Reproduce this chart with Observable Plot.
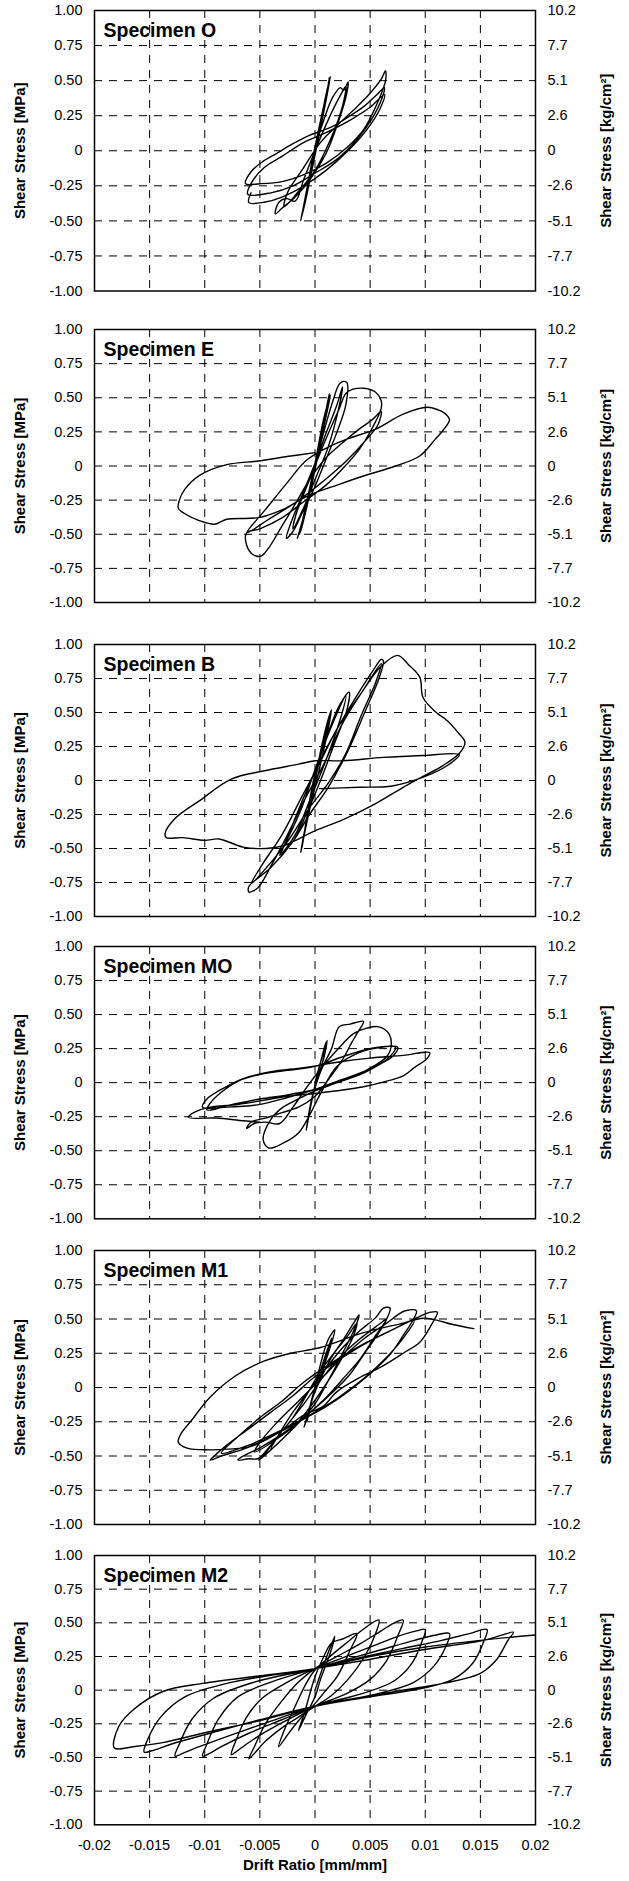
<!DOCTYPE html>
<html><head><meta charset="utf-8">
<script src="https://cdn.jsdelivr.net/npm/d3@7"></script>
<script src="https://cdn.jsdelivr.net/npm/@observablehq/plot@0.6"></script>
<style>
body{margin:0;background:#fff;}
#chart{position:relative;width:629px;height:1881px;overflow:hidden;}
.panel{position:absolute;left:0;}
</style></head><body><div id="chart"></div>
<script>
// ---- tick values and labels ----
const xTicks = [-0.02,-0.015,-0.01,-0.005,0,0.005,0.01,0.015,0.02];
const xTickLabels = ["-0.02","-0.015","-0.01","-0.005","0","0.005","0.01","0.015","0.02"];
const xGrid = [-0.015,-0.01,-0.005,0,0.005,0.01,0.015];
const yTicks = [1,0.75,0.5,0.25,0,-0.25,-0.5,-0.75,-1];
const mpaLabels = ["1.00","0.75","0.50","0.25","0","-0.25","-0.50","-0.75","-1.00"];
const kgLabels = ["10.2","7.7","5.1","2.6","0","-2.6","-5.1","-7.7","-10.2"];
const yGrid = [0.75,0.5,0.25,0,-0.25,-0.5,-0.75];
const specimenNames = ["Specimen O","Specimen E","Specimen B","Specimen MO","Specimen M1","Specimen M2"];
const leftTitle = "Shear Stress [MPa]";
const rightTitle = "Shear Stress [kg/cm\u00b2]";
const xTitle = "Drift Ratio [mm/mm]";

// ---- hysteresis traces: [drift ratio, shear stress MPa] ----
const specimenO = [
[0,0],[0.0005,0.2],[0.0010,0.40],[0.0014,0.53],[0.0011,0.40],[0.0004,0.12],[-0.0004,-0.18],[-0.0010,-0.40],[-0.0013,-0.50],[-0.0010,-0.38],[-0.0002,-0.05],[0.0006,0.25],[0.0012,0.47],[0.0013,0.52],[0.0009,0.32],[0.0,-0.02],[-0.0007,-0.30],[-0.0012,-0.47],[-0.0008,-0.30],[0.0,0.02],
[0.0008,0.22],[0.0016,0.38],[0.0023,0.45],[0.0026,0.43],[0.0030,0.49],[0.0028,0.38],[0.0020,0.18],[0.0010,-0.02],[-0.0004,-0.20],[-0.0018,-0.33],[-0.0030,-0.41],[-0.0036,-0.45],[-0.0033,-0.37],[-0.0026,-0.34],[-0.0018,-0.36],[-0.0010,-0.20],[0.0,0.0],[0.0012,0.22],[0.0022,0.38],[0.0028,0.46],[0.0025,0.32],[0.0014,0.08],[0.0,-0.14],[-0.0016,-0.30],[-0.0028,-0.40],[-0.0025,-0.30],[-0.0012,-0.14],
[0.0005,0.06],[0.0020,0.18],[0.0035,0.29],[0.0050,0.41],[0.0060,0.51],[0.0064,0.57],[0.0064,0.50],[0.0056,0.33],[0.0044,0.15],[0.0030,0.03],[0.0010,-0.09],[-0.0010,-0.17],[-0.0030,-0.22],[-0.0050,-0.235],[-0.0063,-0.235],[-0.0058,-0.15],[-0.0048,-0.08],[-0.0035,-0.02],[-0.0020,0.05],[-0.0005,0.11],[0.0015,0.17],[0.0030,0.24],[0.0045,0.32],[0.0056,0.40],[0.0063,0.45],[0.0061,0.38],[0.0051,0.22],[0.0038,0.08],[0.0020,-0.06],[0.0,-0.16],[-0.0020,-0.25],[-0.0040,-0.30],[-0.0061,-0.31],[-0.0057,-0.22],[-0.0046,-0.12],[-0.0030,-0.04],[-0.0010,0.06],[0.0010,0.13],[0.0030,0.21],[0.0050,0.31],[0.0063,0.40],[0.0059,0.30],[0.0046,0.14],[0.0030,0.0],[0.0010,-0.14],[-0.0010,-0.25],[-0.0030,-0.33],[-0.0045,-0.365],[-0.0060,-0.37],[-0.0058,-0.30]
];
const specimenE = [
[0,0],[0.0006,0.25],[0.0011,0.45],[0.0013,0.53],[0.0010,0.38],[0.0002,0.05],[-0.0006,-0.25],[-0.0012,-0.45],[-0.0014,-0.50],[-0.0010,-0.35],[0.0,0.02],[0.0008,0.35],[0.0014,0.52],[0.0011,0.40],[0.0,0.0],[-0.0008,-0.30],[-0.0016,-0.53],[-0.0012,-0.42],[-0.0003,-0.10],
[0.0008,0.25],[0.0016,0.47],[0.0022,0.60],[0.0026,0.62],[0.0029,0.61],[0.0028,0.45],[0.0020,0.25],[0.0010,0.05],[0.0,-0.15],[-0.0012,-0.35],[-0.0020,-0.48],[-0.0026,-0.53],[-0.0022,-0.42],[-0.0012,-0.22],[0.0,0.02],[0.0010,0.24],[0.0020,0.45],[0.0025,0.58],[0.0022,0.44],[0.0012,0.14],[0.0,-0.10],[-0.0010,-0.30],[-0.0020,-0.46],[-0.0017,-0.35],
[-0.0005,-0.10],[0.0010,0.20],[0.0022,0.42],[0.0029,0.54],[0.0044,0.57],[0.0055,0.54],[0.0060,0.48],[0.0060,0.42],[0.0052,0.28],[0.0040,0.12],[0.0025,-0.02],[0.0010,-0.14],[-0.0010,-0.26],[-0.0030,-0.38],[-0.0050,-0.46],[-0.0062,-0.49],[-0.0062,-0.58],[-0.0056,-0.65],[-0.0049,-0.66],[-0.0042,-0.60],[-0.0030,-0.44],[-0.0018,-0.28],[-0.0005,-0.10],[0.0010,0.06],[0.0025,0.17],[0.0040,0.27],[0.0052,0.34],[0.0060,0.40],[0.0057,0.30],[0.0045,0.18],[0.0030,0.05],[0.0015,-0.06],[0.0,-0.16],[-0.0020,-0.28],[-0.0040,-0.38],[-0.0062,-0.49],
[-0.0045,-0.32],[-0.0025,-0.12],[-0.0008,0.04],[0.0010,0.13],[0.0030,0.20],[0.0055,0.27],[0.0080,0.38],[0.0102,0.43],[0.0112,0.41],[0.0117,0.39],[0.0122,0.34],[0.0116,0.26],[0.0109,0.195],[0.0095,0.073],[0.0073,0.0],[0.0044,-0.073],[0.0022,-0.134],[-0.0007,-0.22],[-0.0029,-0.317],[-0.0051,-0.378],[-0.0080,-0.39],[-0.0091,-0.427],[-0.0105,-0.40],[-0.0118,-0.35],[-0.0124,-0.31],[-0.0123,-0.25],[-0.0118,-0.17],[-0.0105,-0.07],[-0.0080,0.01],[-0.0051,0.037],[-0.0022,0.073],[0.0,0.098]
];
const specimenB = [
[0,0],[0.0006,0.25],[0.0012,0.45],[0.0015,0.52],[0.0012,0.38],[0.0003,0.05],[-0.0005,-0.22],[-0.0011,-0.45],[-0.0013,-0.53],[-0.0009,-0.35],[0.0,0.0],[0.0009,0.35],[0.0014,0.50],[0.0010,0.35],[0.0,0.0],[-0.0008,-0.32],[-0.0012,-0.50],[-0.0008,-0.30],
[0.0,0.05],[0.0012,0.35],[0.0022,0.55],[0.0031,0.65],[0.0029,0.52],[0.0018,0.28],[0.0005,0.0],[-0.0008,-0.25],[-0.0020,-0.45],[-0.0032,-0.55],[-0.0026,-0.45],[-0.0012,-0.20],[0.0,0.08],[0.0015,0.40],[0.0028,0.62],[0.0024,0.48],[0.0010,0.15],[-0.0005,-0.15],[-0.0018,-0.40],[-0.0030,-0.53],[-0.0024,-0.40],
[-0.0010,-0.12],[0.0008,0.20],[0.0025,0.45],[0.0040,0.65],[0.0052,0.80],[0.0060,0.89],[0.0062,0.88],[0.0058,0.75],[0.0045,0.50],[0.0030,0.22],[0.0012,-0.05],[-0.0005,-0.25],[-0.0020,-0.45],[-0.0040,-0.64],[-0.0060,-0.78],[-0.0060,-0.82],[-0.0052,-0.79],[-0.0040,-0.63],[-0.0025,-0.40],[-0.0010,-0.15],[0.0008,0.12],[0.0025,0.42],[0.0045,0.68],[0.0060,0.86],[0.0055,0.72],[0.0042,0.48],[0.0028,0.20],[0.0012,-0.02],[-0.0005,-0.20],[-0.0025,-0.45],[-0.0045,-0.65],[-0.0058,-0.76],[-0.0048,-0.62],[-0.0030,-0.40],[-0.0012,-0.12],[0.0005,0.14],
[0.0020,0.38],[0.0040,0.62],[0.0060,0.84],[0.0075,0.92],[0.0085,0.85],[0.0095,0.76],[0.0098,0.61],[0.0110,0.50],[0.0120,0.44],[0.0130,0.35],[0.0136,0.28],[0.0131,0.20],[0.0116,0.11],[0.0098,0.03],[0.0080,-0.05],[0.0055,-0.17],[0.0025,-0.29],[0.0,-0.37],[-0.0029,-0.48],[-0.0044,-0.50],[-0.0065,-0.49],[-0.0087,-0.43],[-0.0100,-0.44],[-0.0120,-0.42],[-0.0135,-0.42],[-0.0136,-0.39],[-0.0127,-0.28],[-0.0105,-0.15],[-0.0076,0.01],[-0.0047,0.07],[-0.0015,0.12],[0.0,0.145],[0.0025,0.145],[0.0062,0.17],[0.0098,0.184],[0.0131,0.19],[0.0120,0.11],[0.0100,0.03],[0.0070,-0.04],[0.0040,-0.05],[0.0004,-0.06]
];
const specimenMO = [
[0,0],[0.0005,0.15],[0.0011,0.31],[0.0008,0.18],[0.0,-0.02],[-0.0005,-0.20],[-0.0008,-0.35],[-0.0005,-0.22],[0.0,-0.02],[0.0006,0.18],[0.0010,0.30],[0.0006,0.12],[-0.0003,-0.12],[-0.0007,-0.30],[-0.0004,-0.16],
[0.0005,0.08],[0.0015,0.25],[0.0022,0.41],[0.0032,0.43],[0.0044,0.45],[0.0038,0.36],[0.0033,0.29],[0.0025,0.17],[0.0012,0.02],[0.0,-0.10],[-0.0015,-0.18],[-0.0030,-0.22],[-0.0045,-0.26],[-0.0058,-0.29],[-0.0062,-0.335],[-0.0055,-0.30],[-0.0045,-0.29],[-0.0032,-0.30],[-0.0020,-0.18],[-0.0008,-0.04],[0.0005,0.10],[0.0020,0.24],[0.0035,0.36],[0.0047,0.40],[0.0058,0.41],[0.0067,0.36],[0.0069,0.26],[0.0065,0.19],[0.0044,0.08],[0.0020,0.0],[0.0,-0.06],[-0.0015,-0.12],[-0.0029,-0.18],[-0.0040,-0.27],[-0.0047,-0.42],[-0.0042,-0.48],[-0.0029,-0.445],[-0.0015,-0.37],[-0.0005,-0.24],[0.0005,-0.08],
[0.0020,0.12],[0.0040,0.22],[0.0060,0.26],[0.0075,0.26],[0.0070,0.19],[0.0060,0.14],[0.0044,0.07],[0.0020,0.0],[0.0,-0.05],[-0.0025,-0.09],[-0.0050,-0.12],[-0.0075,-0.16],[-0.0098,-0.20],[-0.0095,-0.15],[-0.0085,-0.07],[-0.0070,0.01],[-0.0050,0.06],[-0.0025,0.09],[0.0,0.12],[0.0025,0.19],[0.0050,0.25],[0.0073,0.26],[0.0065,0.17],[0.0044,0.08],[0.0020,0.01],[0.0,-0.05],[-0.0025,-0.11],[-0.0050,-0.16],[-0.0080,-0.18],[-0.0102,-0.18],
[-0.0098,-0.12],[-0.0085,-0.05],[-0.0065,0.03],[-0.0040,0.08],[-0.0010,0.11],[0.0020,0.15],[0.0050,0.18],[0.0080,0.20],[0.0104,0.22],[0.0102,0.18],[0.0090,0.11],[0.0080,0.05],[0.0060,0.0],[0.0044,-0.03],[0.0020,-0.06],[0.0,-0.08],[-0.0025,-0.10],[-0.0047,-0.13],[-0.0070,-0.16],[-0.0095,-0.18],[-0.0110,-0.22],[-0.0115,-0.255],[-0.0090,-0.26],[-0.0065,-0.28],[-0.0050,-0.29]
];
const specimenM1 = [
[0,0],[0.0006,0.2],[0.0012,0.35],[0.0018,0.42],[0.0014,0.30],[0.0005,0.08],[-0.0003,-0.10],[-0.0007,-0.22],[-0.0010,-0.29],[-0.0006,-0.18],[0.0,0.0],[0.0008,0.2],[0.0015,0.36],[0.0010,0.22],[0.0,0.0],[-0.0007,-0.24],[-0.0004,-0.12],
[0.0005,0.06],[0.0015,0.22],[0.0025,0.34],[0.0035,0.47],[0.0040,0.53],[0.0036,0.43],[0.0025,0.25],[0.0012,0.05],[0.0,-0.12],[-0.0015,-0.26],[-0.0030,-0.38],[-0.0042,-0.47],[-0.0051,-0.53],[-0.0045,-0.48],[-0.0035,-0.37],[-0.0020,-0.22],[-0.0008,-0.06],[0.0005,0.12],[0.0020,0.28],[0.0030,0.38],[0.0038,0.47],[0.0034,0.36],[0.0022,0.18],[0.0008,0.0],[-0.0008,-0.18],[-0.0025,-0.34],[-0.0040,-0.45],[-0.0034,-0.36],
[-0.0020,-0.18],[-0.0005,-0.02],[0.0010,0.14],[0.0025,0.29],[0.0040,0.41],[0.0055,0.51],[0.0062,0.58],[0.0068,0.58],[0.0065,0.50],[0.0055,0.38],[0.0042,0.22],[0.0025,0.06],[0.0008,-0.09],[-0.0010,-0.22],[-0.0030,-0.34],[-0.0050,-0.44],[-0.0065,-0.50],[-0.0070,-0.53],[-0.0060,-0.52],[-0.0052,-0.52],[-0.0042,-0.44],[-0.0028,-0.30],[-0.0012,-0.14],[0.0005,0.05],[0.0020,0.20],[0.0040,0.35],[0.0058,0.46],[0.0065,0.50],[0.0058,0.40],[0.0045,0.25],[0.0030,0.08],[0.0010,-0.08],[-0.0010,-0.22],[-0.0030,-0.35],[-0.0055,-0.47],[-0.0048,-0.38],
[-0.0035,-0.26],[-0.0015,-0.10],[0.0005,0.06],[0.0025,0.22],[0.0045,0.36],[0.0065,0.47],[0.0075,0.53],[0.0082,0.56],[0.0092,0.56],[0.0088,0.48],[0.0080,0.38],[0.0068,0.24],[0.0050,0.10],[0.0030,-0.03],[0.0010,-0.14],[-0.0015,-0.25],[-0.0040,-0.36],[-0.0065,-0.45],[-0.0085,-0.50],[-0.0095,-0.53],[-0.0090,-0.49],[-0.0080,-0.42],[-0.0060,-0.30],[-0.0040,-0.18],[-0.0020,-0.06],[0.0,0.08],[0.0025,0.22],[0.0050,0.34],[0.0070,0.42],[0.0090,0.49],[0.0080,0.36],[0.0065,0.22],[0.0045,0.07],[0.0020,-0.08],[0.0,-0.18],[-0.0030,-0.31],[-0.0060,-0.42],[-0.0085,-0.48],
[-0.0070,-0.36],[-0.0050,-0.22],[-0.0030,-0.10],[-0.0010,0.04],[0.0015,0.18],[0.0040,0.30],[0.0065,0.40],[0.0090,0.50],[0.0105,0.55],[0.0111,0.55],[0.0105,0.45],[0.0095,0.33],[0.0080,0.25],[0.0060,0.15],[0.0040,0.07],[0.0020,-0.03],[0.0007,-0.14],[-0.0010,-0.20],[-0.0029,-0.31],[-0.0058,-0.43],[-0.0080,-0.45],[-0.0095,-0.455],[-0.0116,-0.443],[-0.0124,-0.40],[-0.0121,-0.33],[-0.0113,-0.25],[-0.0095,-0.07],[-0.0073,0.08],[-0.0047,0.19],[-0.0022,0.25],[0.0004,0.29],[0.0044,0.40],[0.0080,0.47],[0.0098,0.506],[0.0109,0.494],[0.0125,0.46],[0.0144,0.43]
];
const specimenM2 = [
[0,0],[0.0005,0.12],[0.0012,0.28],[0.0018,0.40],[0.0014,0.28],[0.0005,0.08],[0.0,-0.05],[-0.0008,-0.18],[-0.0015,-0.30],[-0.0010,-0.18],[0.0,0.10],[0.0008,0.25],[0.0015,0.35],
[0.0025,0.38],[0.0038,0.42],[0.0032,0.30],[0.0020,0.10],[0.0008,-0.02],[0.0,-0.10],[-0.0012,-0.20],[-0.0022,-0.30],[-0.0033,-0.42],[-0.0028,-0.30],[-0.0018,-0.12],[-0.0008,0.05],[0.0,0.15],
[0.0015,0.26],[0.0030,0.36],[0.0045,0.46],[0.0058,0.52],[0.0055,0.42],[0.0045,0.25],[0.0030,0.08],[0.0015,-0.04],[0.0,-0.12],[-0.0015,-0.20],[-0.0030,-0.28],[-0.0045,-0.38],[-0.0055,-0.47],[-0.0060,-0.51],[-0.0055,-0.42],[-0.0045,-0.25],[-0.0030,-0.08],[-0.0015,0.06],[0.0,0.16],
[0.0020,0.25],[0.0040,0.34],[0.0060,0.44],[0.0072,0.50],[0.0080,0.52],[0.0076,0.42],[0.0065,0.22],[0.0050,0.08],[0.0030,-0.02],[0.0,-0.12],[-0.0025,-0.22],[-0.0045,-0.31],[-0.0062,-0.40],[-0.0072,-0.46],[-0.0076,-0.48],[-0.0072,-0.38],[-0.0062,-0.20],[-0.0048,-0.06],[-0.0025,0.06],[0.0,0.16],
[0.0025,0.24],[0.0050,0.32],[0.0075,0.40],[0.0092,0.44],[0.0100,0.45],[0.0097,0.36],[0.0088,0.20],[0.0072,0.07],[0.0045,-0.02],[0.0,-0.12],[-0.0030,-0.22],[-0.0060,-0.32],[-0.0085,-0.42],[-0.0098,-0.48],[-0.0102,-0.49],[-0.0098,-0.40],[-0.0088,-0.22],[-0.0070,-0.05],[-0.0040,0.06],[0.0,0.16],
[0.0030,0.23],[0.0060,0.30],[0.0090,0.37],[0.0110,0.41],[0.0122,0.42],[0.0119,0.33],[0.0108,0.18],[0.0090,0.06],[0.0060,-0.02],[0.0,-0.12],[-0.0040,-0.23],[-0.0075,-0.33],[-0.0105,-0.42],[-0.0120,-0.47],[-0.0127,-0.49],[-0.0123,-0.40],[-0.0112,-0.22],[-0.0092,-0.06],[-0.0055,0.06],[0.0,0.16],
[0.0040,0.24],[0.0080,0.31],[0.0115,0.37],[0.0140,0.42],[0.0156,0.45],[0.0153,0.36],[0.0143,0.20],[0.0125,0.08],[0.0095,0.01],[0.0050,-0.05],[0.0,-0.12],[-0.0050,-0.22],[-0.0095,-0.32],[-0.0130,-0.40],[-0.0148,-0.45],[-0.0155,-0.46],[-0.0152,-0.37],[-0.0140,-0.20],[-0.0118,-0.05],[-0.0080,0.05],[-0.0040,0.11],[0.0,0.16],
[0.0044,0.22],[0.0098,0.30],[0.0153,0.37],[0.0170,0.41],[0.0180,0.43],[0.0175,0.37],[0.0164,0.22],[0.0149,0.12],[0.0116,0.05],[0.0080,0.0],[0.0044,-0.05],[0.0,-0.12],[-0.0047,-0.22],[-0.0102,-0.32],[-0.0138,-0.39],[-0.0165,-0.42],[-0.0182,-0.43],[-0.0178,-0.27],[-0.0164,-0.14],[-0.0138,-0.01],[-0.0102,0.05],[-0.0047,0.11],[0.0,0.16],
[0.0050,0.25],[0.0100,0.32],[0.0150,0.37],[0.0200,0.41]
];
const specimenData = [specimenO, specimenE, specimenB, specimenMO, specimenM1, specimenM2];

// ---- layout ----
const frameTops = [9.5, 329.3, 644, 946, 1250, 1555];
const frameBottoms = [290, 602.3, 916, 1218.3, 1524, 1824.3];
const mLeft = 94, mRight = 94, mTop = 12;

const mpaMap = new Map(yTicks.map((v, i) => [v, mpaLabels[i]]));
const kgMap = new Map(yTicks.map((v, i) => [v, kgLabels[i]]));
const xMap = new Map(xTicks.map((v, i) => [v, xTickLabels[i]]));
const FONT = "'Liberation Sans', Arial, Helvetica, sans-serif";
const chart = document.getElementById("chart");

specimenData.forEach((data, k) => {
  const last = k === specimenData.length - 1;
  const mBottom = last ? 1881 - frameBottoms[k] : 12;
  const frameH = frameBottoms[k] - frameTops[k];
  const marks = [
    Plot.gridX({ticks: xGrid, stroke: "#000", strokeOpacity: 1, strokeWidth: 1, strokeDasharray: "8,7"}),
    Plot.gridY({ticks: yGrid, stroke: "#000", strokeOpacity: 1, strokeWidth: 1, strokeDasharray: "8,7"}),
    Plot.line(data, {x: d => d[0], y: d => d[1], stroke: "#000", strokeWidth: 1.4, curve: "catmull-rom", clip: true}),
    Plot.frame({stroke: "#000", strokeWidth: 1.5}),
    Plot.axisY({anchor: "left", ticks: yTicks, tickFormat: d => mpaMap.get(d), tickSize: 0, tickPadding: 12, label: null, fontSize: 14.5}),
    Plot.axisY({anchor: "right", ticks: yTicks, tickFormat: d => kgMap.get(d), tickSize: 0, tickPadding: 12, label: null, fontSize: 14.5}),
    Plot.text([specimenNames[k]], {text: d => d, frameAnchor: "top-left", dx: 9, dy: 12.5, textAnchor: "start", lineAnchor: "top", fontSize: 19.5, fontWeight: "bold"}),
    Plot.text([leftTitle], {text: d => d, frameAnchor: "left", dx: -74, rotate: -90, textAnchor: "middle", fontSize: 15, fontWeight: "bold"}),
    Plot.text([rightTitle], {text: d => d, frameAnchor: "right", dx: 71, rotate: -90, textAnchor: "middle", fontSize: 15, fontWeight: "bold"})
  ];
  if (last) {
    marks.push(Plot.axisX({ticks: xTicks, tickFormat: d => xMap.get(d), tickSize: 0, tickPadding: 15, label: null, fontSize: 14.5}));
    marks.push(Plot.text([xTitle], {text: d => d, frameAnchor: "bottom", dy: 45, textAnchor: "middle", fontSize: 15, fontWeight: "bold"}));
  }
  const plot = Plot.plot({
    width: 629,
    height: mTop + frameH + mBottom,
    marginLeft: mLeft, marginRight: mRight, marginTop: mTop, marginBottom: mBottom,
    x: last ? {domain: [-0.02, 0.02]} : {domain: [-0.02, 0.02], axis: null},
    y: {domain: [-1, 1]},
    style: {fontFamily: FONT, fontSize: "14.5px", color: "#000", background: "transparent", overflow: "visible"},
    marks
  });
  const div = document.createElement("div");
  div.className = "panel";
  div.style.top = (frameTops[k] - mTop) + "px";
  div.appendChild(plot);
  chart.appendChild(div);
});
</script>
</body></html>
